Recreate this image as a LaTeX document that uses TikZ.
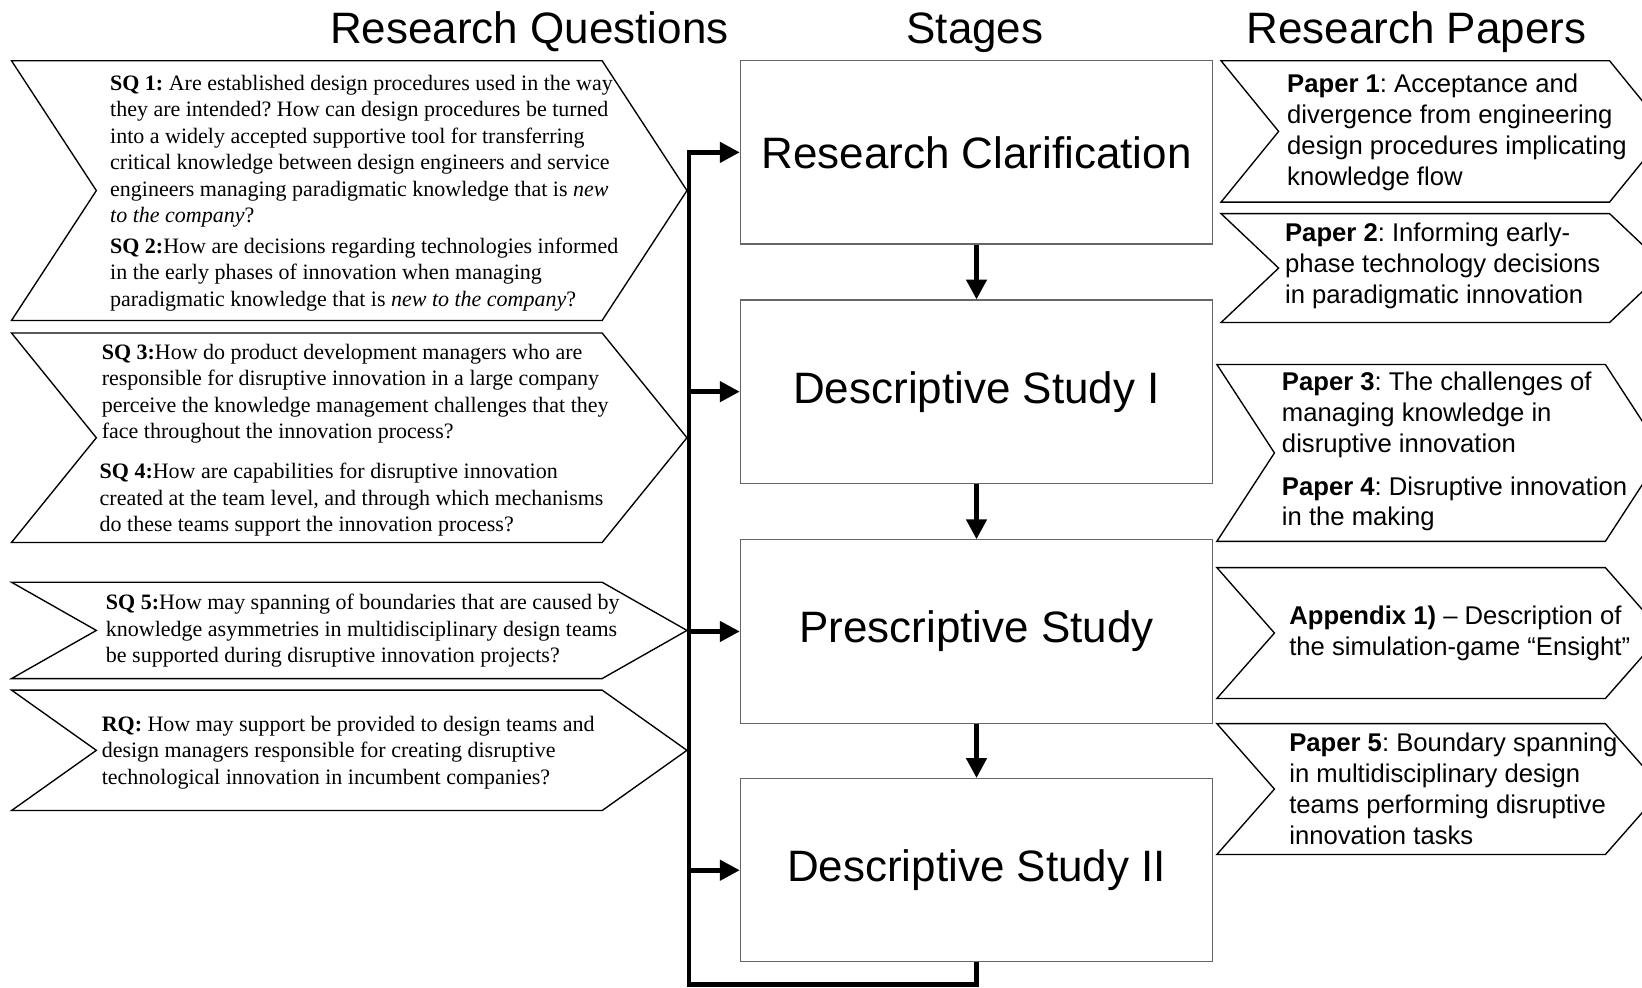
\documentclass[tikz,border=0pt]{standalone}
\usepackage{fontspec}
\setmainfont{Liberation Serif}
\newfontfamily\arialfont{Liberation Sans}
\usetikzlibrary{arrows.meta}
\frenchspacing

% chevron outline: left x, top y, corner x, bottom y, point depth
\newcommand{\chevronat}[5]{%
  \draw[chev] (#1,#2) -- (#3,#2) -- ({#3+#5},{(#2+#4)/2}) -- (#3,#4) -- (#1,#4)
    -- ({#1+#5},{(#2+#4)/2}) -- cycle;}

\begin{document}
\begin{tikzpicture}[x=1pt,y=-1pt,
  chev/.style={draw=black, line width=1.3pt, fill=white, line join=miter},
  stagebox/.style={draw=black!60, line width=1.1pt, fill=white,
    minimum width=451pt, minimum height=175pt, inner sep=0pt,
    font=\arialfont\fontsize{42}{50}\selectfont},
  headline/.style={anchor=base, inner sep=0pt, font=\arialfont\fontsize{42}{50}\selectfont},
  question/.style={anchor=north west, inner sep=0pt, align=left,
    font=\fontsize{21}{25.3}\selectfont},
  paper/.style={anchor=north west, inner sep=0pt, align=left,
    font=\arialfont\fontsize{24.5}{29.5}\selectfont},
  flow/.style={line width=4.5pt, -{Triangle[length=19pt,width=19pt]}},
  bus/.style={line width=4.5pt, line join=miter},
]
\path[use as bounding box, fill=white] (0,0) rectangle (1568,943);
\clip (0,0) rectangle (1568,943);

% column headings
\node[headline] (hq) at (505.5,42) {Research Questions};
\node[headline] (hs) at (931,42) {Stages};
\node[headline] (hp) at (1352.5,42) {Research Papers};

% question chevrons
\chevronat{11}{58}{575}{306}{81}
\chevronat{11}{318}{575}{518}{81}
\chevronat{11}{556}{575}{648}{81}
\chevronat{11}{659}{575}{774}{81}

% paper chevrons
\chevronat{1166}{58}{1537}{193}{55}
\chevronat{1166}{204}{1537}{308}{55}
\chevronat{1162}{348}{1533}{517}{55}
\chevronat{1162}{542}{1533}{667}{55}
\chevronat{1162}{691}{1533}{816}{55}

% research questions
\node[question] (sq1) at (105,68.3) {\strut\textbf{SQ 1:} Are established design procedures used in the way\\
they are intended? How can design procedures be turned\\
into a widely accepted supportive tool for transferring\\
critical knowledge between design engineers and service\\
engineers managing paradigmatic knowledge that is \textit{new}\\
\textit{to the company}?};
\node[question] (sq2) at (105,223.8) {\strut\textbf{SQ 2:}How are decisions regarding technologies informed\\
in the early phases of innovation when managing\\
paradigmatic knowledge that is \textit{new to the company}?};
\node[question] (sq3) at (97,325.3) {\strut\textbf{SQ 3:}How do product development managers who are\\
responsible for disruptive innovation in a large company\\
perceive the knowledge management challenges that they\\
face throughout the innovation process?};
\node[question] (sq4) at (95,439.3) {\strut\textbf{SQ 4:}How are capabilities for disruptive innovation\\
created at the team level, and through which mechanisms\\
do these teams support the innovation process?};
\node[question] (sq5) at (101,564.3) {\strut\textbf{SQ 5:}How may spanning of boundaries that are caused by\\
knowledge asymmetries in multidisciplinary design teams\\
be supported during disruptive innovation projects?};
\node[question] (rq) at (97,680.3) {\strut\textbf{RQ:} How may support be provided to design teams and\\
design managers responsible for creating disruptive\\
technological innovation in incumbent companies?};

% research papers
\node[paper] (p1) at (1229,67.85) {\strut\textbf{Paper 1}: Acceptance and\\
divergence from engineering\\
design procedures implicating\\
knowledge flow};
\node[paper] (p2) at (1227,209.85) {\strut\textbf{Paper 2}: Informing early-\\
phase technology decisions\\
in paradigmatic innovation};
\node[paper] (p3) at (1224,351.85) {\strut\textbf{Paper 3}: The challenges of\\
managing knowledge in\\
disruptive innovation};
\node[paper] (p4) at (1224,451.85) {\strut\textbf{Paper 4}: Disruptive innovation\\
in the making};
\node[paper] (app) at (1231,575.85) {\strut\textbf{Appendix 1)} – Description of\\
the simulation-game “Ensight”};
\node[paper] (p5) at (1231,696.85) {\strut\textbf{Paper 5}: Boundary spanning\\
in multidisciplinary design\\
teams performing disruptive\\
innovation tasks};

% stages
\node[stagebox] (rc) at (932.5,145.5) {Research Clarification};
\node[stagebox] (ds1) at (932.5,374) {Descriptive Study I};
\node[stagebox] (ps) at (932.5,603) {Prescriptive Study};
\node[stagebox] (ds2) at (932.5,831) {Descriptive Study II};

\draw[flow] (rc) -- (ds1);
\draw[flow] (ds1) -- (ps);
\draw[flow] (ps) -- (ds2);

% feedback loop back to every stage
\coordinate (busbot) at (658,940);
\draw[bus, flow] (ds2.south) -- (ds2.south |- busbot) -- (busbot)
  -- (busbot |- rc.west) -- (rc.west);
\draw[flow] (busbot |- ds1.west) -- (ds1.west);
\draw[flow] (busbot |- ps.west) -- (ps.west);
\draw[flow] (busbot |- ds2.west) -- (ds2.west);
\end{tikzpicture}
\end{document}
